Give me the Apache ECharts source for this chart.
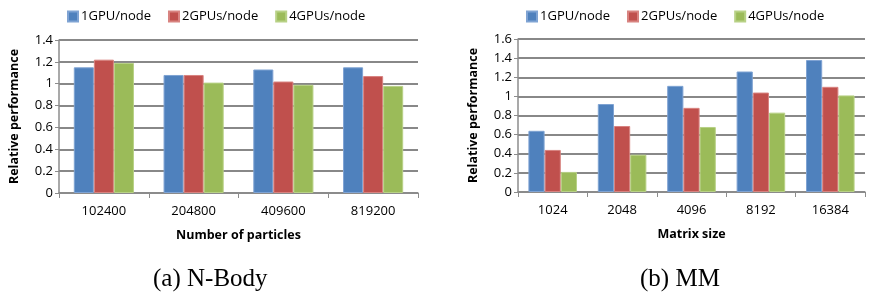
<!DOCTYPE html>
<html><head><meta charset="utf-8">
<script src="https://cdn.jsdelivr.net/npm/echarts@6/dist/echarts.min.js"></script>
<style>html,body{margin:0;padding:0;background:#fff}#c{width:874px;height:298px}</style>
</head><body><div id="c"></div>
<script>
const seriesNames = ['1GPU/node', '2GPUs/node', '4GPUs/node'];
const nbodyCategories = ['102400', '204800', '409600', '819200'];
const nbody1 = [1.15, 1.08, 1.13, 1.15];
const nbody2 = [1.22, 1.08, 1.02, 1.07];
const nbody4 = [1.19, 1.01, 0.99, 0.98];
const mmCategories = ['1024', '2048', '4096', '8192', '16384'];
const mm1 = [0.64, 0.92, 1.11, 1.26, 1.38];
const mm2 = [0.44, 0.69, 0.88, 1.04, 1.10];
const mm4 = [0.21, 0.39, 0.68, 0.83, 1.01];
const captions = ['(a) N-Body', '(b) MM'];
const colors = ['#4F81BD', '#C0504D', '#9BBB59'];
const borders = ['#7FA3D3', '#D88380', '#B8D186'];
const font = 'Open Sans';

const chart = echarts.init(document.getElementById('c'), null, {renderer: 'canvas'});
function yAxis(gi, max) {
  return {
    type: 'value', gridIndex: gi, min: 0, max: max, interval: 0.2,
    axisLine: {show: true, lineStyle: {color: '#8c8c8c', width: 1.5}},
    axisTick: {show: true, length: 4, lineStyle: {color: '#8c8c8c'}},
    splitLine: {lineStyle: {color: '#888', width: 2}},
    axisLabel: {color: '#000', fontFamily: font, fontSize: 13, margin: 6,
      formatter: v => String(Math.round(v * 10) / 10)},
    name: 'Relative performance', nameLocation: 'middle', nameGap: 38,
    nameTextStyle: {fontFamily: font, fontWeight: 'bold', fontSize: 12.5, color: '#000'}
  };
}
function xAxis(gi, cats, name) {
  return {
    type: 'category', gridIndex: gi, data: cats,
    axisLine: {lineStyle: {color: '#8c8c8c', width: 1.5}},
    axisTick: {show: true, length: 5, lineStyle: {color: '#8c8c8c'}},
    axisLabel: {color: '#000', fontFamily: font, fontSize: 13, margin: 12},
    name: name, nameLocation: 'middle', nameGap: 36,
    nameTextStyle: {fontFamily: font, fontWeight: 'bold', fontSize: 12.5, color: '#000'}
  };
}
function bars(gi, arrs, gap) {
  return arrs.map((d, i) => ({
    type: 'bar', name: seriesNames[i], xAxisIndex: gi, yAxisIndex: gi, data: d,
    barGap: '0%', barCategoryGap: gap,
    itemStyle: {color: colors[i], borderColor: borders[i], borderWidth: 1},
    emphasis: {disabled: true}
  }));
}
function legend(left) {
  return {
    left: left, top: 5, itemWidth: 10, itemHeight: 10, itemGap: 17,
    icon: 'rect', data: seriesNames,
    textStyle: {fontFamily: font, fontSize: 13, color: '#000', padding: [0,0,0,-2]}
  };
}
chart.setOption({
  animation: false,
  color: colors,
  legend: [legend(62), legend(521)],
  grid: [
    {left: 59, right: 456, top: 40, bottom: 105},
    {left: 518, right: 9, top: 39, bottom: 106}
  ],
  xAxis: [xAxis(0, nbodyCategories, 'Number of particles'), xAxis(1, mmCategories, 'Matrix size')],
  yAxis: [yAxis(0, 1.4), yAxis(1, 1.6)],
  series: [...bars(0, [nbody1, nbody2, nbody4], '33%'), ...bars(1, [mm1, mm2, mm4], '30%')],
  graphic: [
    {type: 'text', x: 153, y: 279, style: {text: captions[0], font: '25px "Liberation Serif"', fill: '#000', verticalAlign: 'middle'}},
    {type: 'text', x: 640, y: 279, style: {text: captions[1], font: '25px "Liberation Serif"', fill: '#000', verticalAlign: 'middle'}}
  ]
});
</script></body></html>
